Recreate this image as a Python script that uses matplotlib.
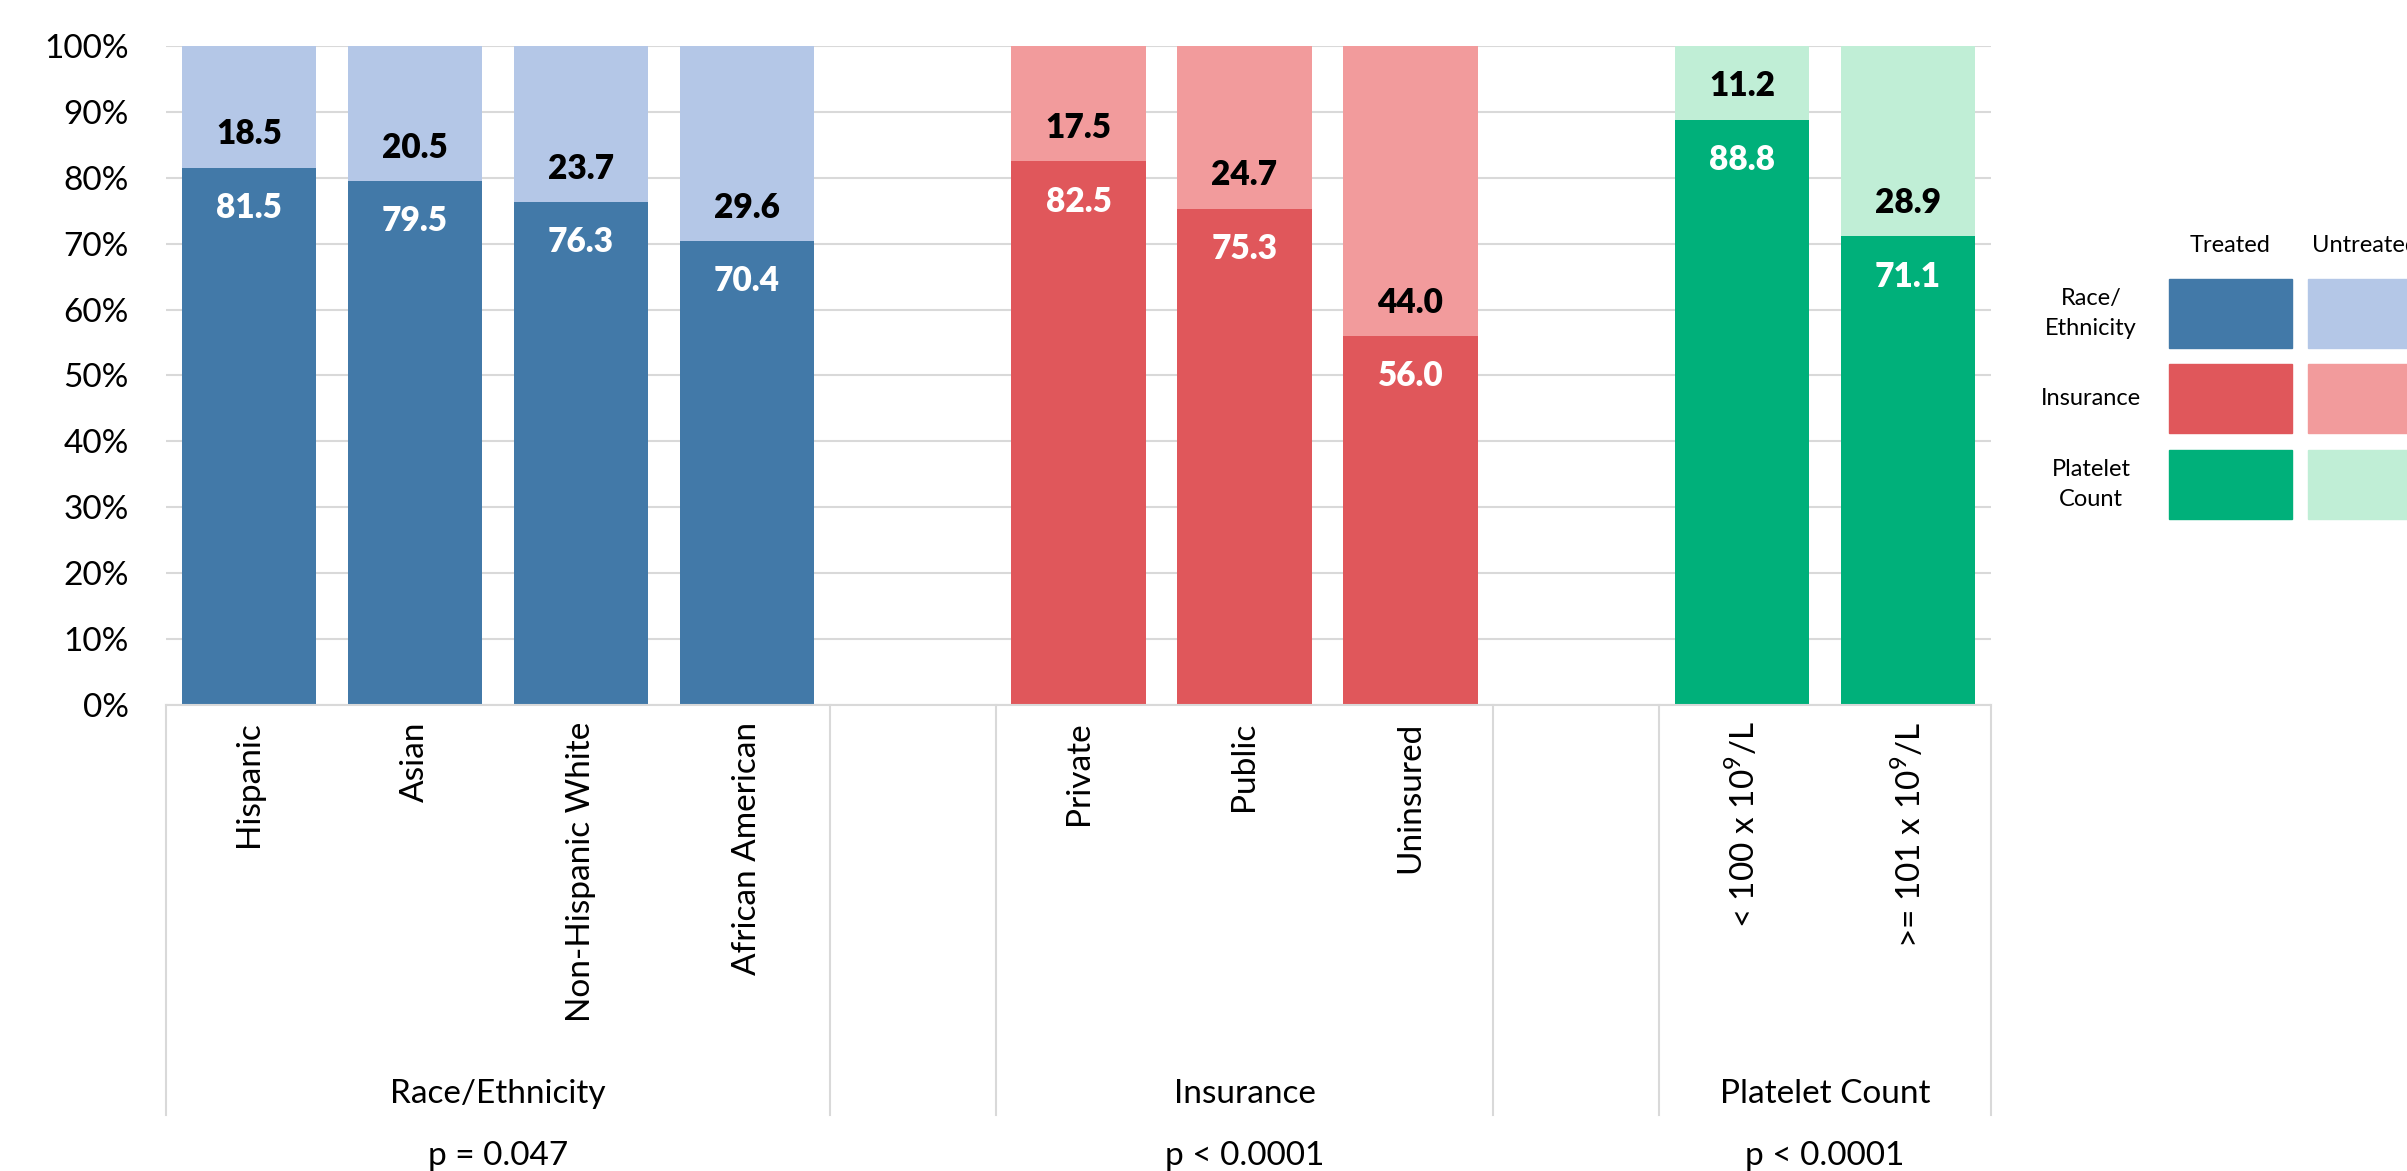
import matplotlib
matplotlib.use('Agg')
import matplotlib.pyplot as plt
from matplotlib.patches import Rectangle

plt.rcParams['font.family'] = ['Lato', 'DejaVu Sans']
plt.rcParams['mathtext.fontset'] = 'custom'
plt.rcParams['mathtext.rm'] = 'Lato'

# Данные
categories = ['Hispanic', 'Asian', 'Non-Hispanic White', 'African American',
              'Private', 'Public', 'Uninsured',
              r'< 100 x 10$^9$/L', r'>= 101 x 10$^9$/L']
slots = [0, 1, 2, 3, 5, 6, 7, 9, 10]
treated = [81.5, 79.5, 76.3, 70.4, 82.5, 75.3, 56.0, 88.8, 71.1]
untreated = [18.5, 20.5, 23.7, 29.6, 17.5, 24.7, 44.0, 11.2, 28.9]
group_of = [0, 0, 0, 0, 1, 1, 1, 2, 2]
groups = ['Race/Ethnicity', 'Insurance', 'Platelet Count']
group_centers = [1.5, 6, 9.5]
p_values = ['p = 0.047', 'p < 0.0001', 'p < 0.0001']
legend_rows = ['Race/\nEthnicity', 'Insurance', 'Platelet\nCount']

dark = ['#4279A8', '#E0575B', '#00B07A']
light = ['#B4C7E7', '#F29B9C', '#C0EED6']

fig = plt.figure(figsize=(24.07, 11.71), dpi=100)
ax = fig.add_axes([0.069, 0.398, 0.7582, 0.5628])

for s, t, u, g in zip(slots, treated, untreated, group_of):
    ax.bar(s, t, width=0.81, color=dark[g], zorder=2)
    ax.bar(s, u, bottom=t, width=0.81, color=light[g], zorder=2)
    ax.annotate(f'{t:.1f}', (s, t), xytext=(0, -29), textcoords='offset points',
                ha='center', va='center', color='white', fontsize=24, fontweight='heavy')
    ax.annotate(f'{u:.1f}', (s, t), xytext=(0, 24), textcoords='offset points',
                ha='center', va='center', color='black', fontsize=24, fontweight='heavy')

ax.set_xlim(-0.5, 10.5)
ax.set_ylim(0, 100)
ax.set_yticks(range(0, 101, 10))
ax.set_yticklabels([f'{v}%' for v in range(0, 101, 10)], fontsize=24)
ax.tick_params(axis='y', length=0, pad=27)
ax.set_xticks(slots)
ax.set_xticklabels(categories, rotation=90, fontsize=24, va='top', ha='center')
ax.tick_params(axis='x', length=0, pad=12)
ax.grid(axis='y', color='#D9D9D9', linewidth=1.5, zorder=0)
for side in ['left', 'right', 'top']:
    ax.spines[side].set_visible(False)
ax.spines['bottom'].set_color('#D9D9D9')
ax.spines['bottom'].set_linewidth(1.5)

# Разделители групп под осью
trans = ax.get_xaxis_transform()
for xb in [-0.5, 3.5, 4.5, 7.5, 8.5, 10.5]:
    ax.plot([xb, xb], [0, -0.622], transform=trans, color='#D9D9D9',
            linewidth=1.5, clip_on=False)

for gx, name, p in zip(group_centers, groups, p_values):
    ax.text(gx, -0.590, name, transform=trans, ha='center', va='center', fontsize=24)
    ax.text(gx, -0.685, p, transform=trans, ha='center', va='center', fontsize=24)

# Легенда-таблица справа
W, H = 2407.0, 1171.0
fig.text(2230 / W, 1 - 245 / H, 'Treated', ha='center', va='center', fontsize=17)
fig.text(2312 / W, 1 - 245 / H, 'Untreated', ha='left', va='center', fontsize=17)
row_tops = [279, 364, 450]
for i, (lab, top) in enumerate(zip(legend_rows, row_tops)):
    h = 69
    fig.patches.append(Rectangle((2169 / W, 1 - (top + h) / H), 123 / W, h / H,
                                 transform=fig.transFigure, color=dark[i]))
    fig.patches.append(Rectangle((2308 / W, 1 - (top + h) / H), 123 / W, h / H,
                                 transform=fig.transFigure, color=light[i]))
    fig.text(2091 / W, 1 - (top + h / 2) / H, lab, ha='center', va='center',
             fontsize=17, linespacing=1.5, multialignment='center')

fig.savefig('out.png', dpi=100)
